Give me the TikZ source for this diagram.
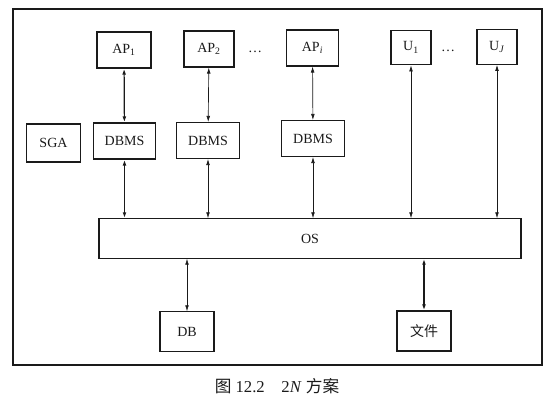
\documentclass[tikz,border=0pt]{standalone}
\usepackage{fontspec}
\setmainfont{Liberation Serif}
\newfontfamily\cjk{Noto Sans CJK SC}
\usepackage{tikz}
\usetikzlibrary{calc, positioning, arrows.meta}
\definecolor{schemegray}{HTML}{1A1A1A}

\begin{document}
\begin{tikzpicture}[x=0.75pt, y=-0.75pt, font=\fontsize{10.5}{12}\selectfont, schemegray]

% Styles
\tikzset{
  box/.style={draw, line width=0.8pt, inner sep=0pt, align=center},
  apbox/.style={box, minimum width=39pt, minimum height=27pt},
  ubox/.style={box, minimum width=30pt, minimum height=26pt},
  dbmsbox/.style={box, minimum width=47pt, minimum height=27pt},
  link/.style={{Latex[length=4.5pt,width=2.8pt]}-{Latex[length=4.5pt,width=2.8pt]}, line width=0.5pt},
  boldlink/.style={link, line width=0.9pt}
}

\useasboundingbox (0,0) rectangle (554,403);

% Outer frame
\draw[line width=0.8pt] (13,9) rectangle (542,365);

% Top row
\node[apbox, minimum width=40.5pt] (ap1) at (124,50) {AP\textsubscript{1}};
\node[apbox, minimum width=37.5pt] (ap2) at (209,49) {AP\textsubscript{2}};
\node (dots1) at (255,52) {\dots};
\node[apbox] (api) at (312.5,48) {AP\textsubscript{\textit{i}}};
\node[ubox] (u1) at (411,47.5) {U\textsubscript{1}};
\node (dots2) at (448,51) {\dots};
\node[ubox] (uj) at (497,47) {U\textsubscript{\textit{J}}};

% Middle row
\node[box, minimum width=40pt, minimum height=28.5pt] (sga) at (53.5,143) {SGA};
\node[dbmsbox] (dbms1) at (124.5,141) {DBMS};
\node[dbmsbox] (dbms2) at (208,140.5) {DBMS};
\node[dbmsbox] (dbms3) at (313,138.5) {DBMS};

% OS
\node[box, minimum width=316.5pt, minimum height=29.5pt] (os) at (310,238.5) {OS};

% Bottom row
\node[box, minimum width=40.5pt, minimum height=29.5pt] (db) at (187,331.5) {DB};
\node[box, minimum width=40.5pt, minimum height=30pt] (file) at (424,331) {\cjk 文件};

% AP <-> DBMS
\draw[boldlink] (ap1) -- (dbms1);
\draw[link] (ap2) -- (dbms2);
\draw[link] (api) -- (dbms3);

% DBMS / U <-> OS
\draw[boldlink] (dbms1.south) -- (dbms1.south |- os.north);
\foreach \n in {dbms2, dbms3, u1, uj} {
  \draw[link] (\n.south) -- (\n.south |- os.north);
}

% OS <-> DB, file
\draw[link] (os.south -| db.north) -- (db.north);
\draw[boldlink] (os.south -| file.north) -- (file.north);

% Caption
\node[font=\fontsize{12.5}{14}\selectfont] (caption) at (277,386) {{\cjk 图} 12.2\quad 2\textit{N} {\cjk 方案}};

\end{tikzpicture}
\end{document}
